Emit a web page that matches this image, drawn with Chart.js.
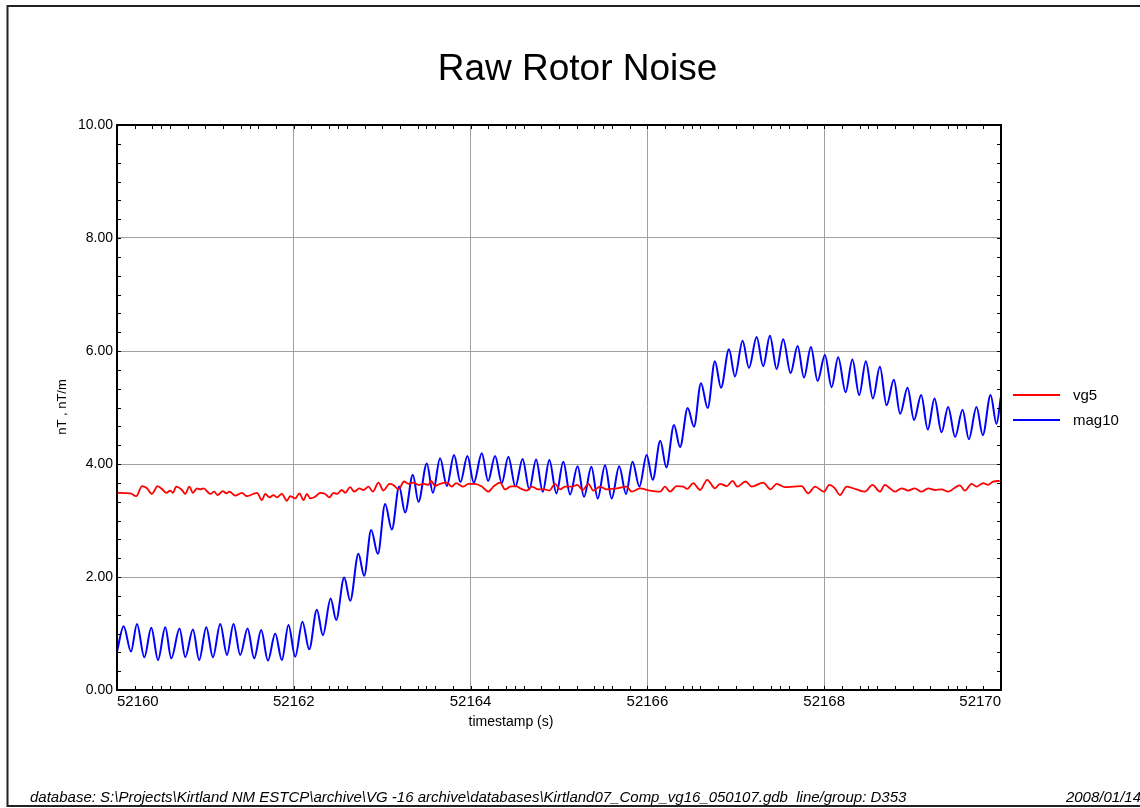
<!DOCTYPE html>
<html><head><meta charset="utf-8">
<script src="https://cdn.jsdelivr.net/npm/chart.js@4"></script>
<style>html,body{margin:0;padding:0;background:#fff;}#wrap{width:1140px;height:808px;position:relative;}</style>
</head><body><div id="wrap"><canvas id="c" width="1140" height="808"></canvas></div>
<script>
const chartTitle = 'Raw Rotor Noise';
const xTitle = 'timestamp (s)';
const yTitle = 'nT , nT/m';
const footerLeft = 'database: S:\\Projects\\Kirtland NM ESTCP\\archive\\VG -16 archive\\databases\\Kirtland07_Comp_vg16_050107.gdb  line/group: D353';
const footerRight = '2008/01/14';
const seriesNames = ['vg5', 'mag10'];
const xTickValues = [52160, 52162, 52164, 52166, 52168, 52170];
const yTickValues = [0, 2, 4, 6, 8, 10];

const magT = [
52160.000,52160.075,52160.158,52160.226,52160.309,52160.388,52160.464,52160.546,52160.614,52160.708,52160.772,52160.859,52160.930,
52161.010,52161.085,52161.168,52161.244,52161.318,52161.394,52161.477,52161.552,52161.631,52161.707,52161.790,52161.865,52161.940,
52162.016,52162.098,52162.174,52162.261,52162.329,52162.417,52162.479,52162.570,52162.638,52162.731,52162.796,52162.875,52162.951,
52163.033,52163.109,52163.192,52163.259,52163.347,52163.410,52163.505,52163.573,52163.655,52163.731,52163.813,52163.885,52163.964,
52164.036,52164.127,52164.198,52164.277,52164.353,52164.427,52164.507,52164.588,52164.664,52164.741,52164.816,52164.891,52164.970,
52165.049,52165.125,52165.210,52165.283,52165.366,52165.438,52165.521,52165.596,52165.681,52165.758,52165.832,52165.909,52165.992,
52166.060,52166.146,52166.214,52166.301,52166.369,52166.456,52166.527,52166.606,52166.682,52166.764,52166.832,52166.923,52166.990,
52167.077,52167.149,52167.236,52167.310,52167.386,52167.462,52167.536,52167.620,52167.699,52167.771,52167.850,52167.925,
52168.008,52168.084,52168.158,52168.242,52168.319,52168.396,52168.471,52168.551,52168.630,52168.706,52168.788,52168.859,52168.943,
52169.016,52169.097,52169.172,52169.248,52169.327,52169.402,52169.481,52169.565,52169.636,52169.723,52169.794,52169.882,52169.949,
52170.000];
const magV = [
0.68,1.13,0.68,1.17,0.58,1.10,0.53,1.11,0.56,1.09,0.58,1.07,0.53,
1.11,0.58,1.17,0.62,1.17,0.62,1.09,0.56,1.06,0.52,1.00,0.53,1.15,
0.59,1.21,0.72,1.42,0.97,1.62,1.24,1.99,1.58,2.41,2.02,2.83,2.41,
3.29,2.84,3.60,3.14,3.81,3.33,4.01,3.49,4.10,3.61,4.16,3.68,4.14,
3.67,4.19,3.70,4.14,3.66,4.13,3.60,4.09,3.55,4.08,3.51,4.07,3.48,
4.04,3.46,3.96,3.42,3.95,3.39,3.98,3.39,3.96,3.47,4.04,3.60,4.16,
3.72,4.41,3.94,4.69,4.30,4.99,4.66,5.43,4.99,5.82,5.35,6.03,5.55,
6.18,5.70,6.25,5.73,6.27,5.68,6.21,5.61,6.09,5.53,6.07,5.47,
5.93,5.36,5.89,5.27,5.85,5.22,5.82,5.16,5.72,5.04,5.49,4.89,5.35,
4.78,5.22,4.61,5.16,4.56,5.01,4.48,4.96,4.44,5.01,4.51,5.22,4.71,
5.20];

const vgT = [
52160.000,52160.150,52160.218,52160.283,52160.339,52160.396,52160.459,52160.520,52160.557,52160.603,
52160.633,52160.670,52160.735,52160.772,52160.817,52160.859,52160.904,52160.942,52160.979,
52161.055,52161.100,52161.137,52161.198,52161.236,52161.273,52161.337,52161.413,52161.470,52161.583,
52161.639,52161.677,52161.725,52161.770,52161.809,52161.865,52161.922,52161.959,
52162.016,52162.064,52162.110,52162.148,52162.185,52162.242,52162.298,52162.355,52162.404,52162.449,
52162.487,52162.544,52162.581,52162.638,52162.683,52162.743,52162.788,52162.845,52162.894,52162.958,
52163.014,52163.082,52163.127,52163.184,52163.248,52163.297,52163.353,52163.410,52163.474,52163.523,
52163.553,52163.599,52163.655,52163.731,52163.787,52163.836,52163.919,52163.975,
52164.051,52164.127,52164.201,52164.258,52164.334,52164.390,52164.447,52164.514,52164.560,52164.635,
52164.692,52164.767,52164.842,52164.891,52164.955,
52165.012,52165.068,52165.144,52165.207,52165.268,52165.332,52165.388,52165.464,52165.540,52165.653,
52165.766,52165.822,52165.916,
52166.029,52166.143,52166.199,52166.256,52166.331,52166.406,52166.451,52166.519,52166.595,52166.677,
52166.764,52166.821,52166.897,52166.964,
52167.016,52167.111,52167.179,52167.310,52167.394,52167.462,52167.556,52167.650,52167.744,52167.819,
52167.895,52167.997,
52168.057,52168.121,52168.178,52168.253,52168.366,52168.460,52168.547,52168.630,52168.686,52168.743,
52168.799,52168.875,52168.950,
52169.025,52169.101,52169.176,52169.252,52169.327,52169.402,52169.497,52169.534,52169.591,52169.667,
52169.723,52169.798,52169.854,52169.911,52169.986];
const vgV = [
3.49,3.48,3.43,3.61,3.57,3.47,3.61,3.54,3.49,3.53,
3.49,3.60,3.54,3.47,3.60,3.49,3.57,3.55,3.57,
3.47,3.51,3.45,3.52,3.48,3.51,3.44,3.49,3.43,3.49,
3.36,3.47,3.41,3.45,3.41,3.47,3.35,3.43,
3.39,3.48,3.36,3.47,3.39,3.42,3.49,3.47,3.41,3.49,
3.47,3.54,3.49,3.59,3.51,3.57,3.54,3.60,3.51,3.67,
3.53,3.65,3.63,3.55,3.69,3.65,3.67,3.63,3.65,3.63,
3.70,3.61,3.65,3.67,3.60,3.66,3.60,3.65,
3.65,3.60,3.51,3.60,3.67,3.55,3.60,3.61,3.57,3.53,
3.60,3.55,3.55,3.53,3.65,
3.55,3.60,3.60,3.63,3.54,3.65,3.53,3.60,3.55,3.57,
3.60,3.51,3.57,
3.53,3.51,3.60,3.51,3.61,3.60,3.56,3.66,3.54,3.72,
3.57,3.65,3.61,3.70,
3.60,3.69,3.60,3.67,3.55,3.65,3.59,3.60,3.61,3.48,
3.60,3.51,
3.63,3.57,3.45,3.60,3.55,3.51,3.63,3.51,3.63,3.57,
3.51,3.57,3.53,
3.57,3.51,3.57,3.54,3.55,3.51,3.60,3.62,3.53,3.65,
3.60,3.66,3.63,3.69,3.70];

const FONT = "'Liberation Sans', Arial, Helvetica, sans-serif";
Chart.defaults.font.family = FONT;
Chart.defaults.color = '#000';

const deco = {
  id: 'deco',
  afterDraw(chart) {
    const ctx = chart.ctx, a = chart.chartArea, xs = chart.scales.x, ys = chart.scales.y;
    ctx.save();
    // minor ticks (inward)
    ctx.strokeStyle = '#000'; ctx.lineWidth = 1;
    ctx.beginPath();
    const xm = [];
    for (let k = 0; k <= 50; k++) xm.push(xs.min + k * 0.2);
    for (let n = 0; n < 10; n++) xm.push(xs.min + n + 0.5);
    xm.forEach(v => {
      const px = Math.round(xs.getPixelForValue(v)) + 0.5;
      ctx.moveTo(px, a.bottom); ctx.lineTo(px, a.bottom - 4);
      ctx.moveTo(px, a.top); ctx.lineTo(px, a.top + 4);
    });
    for (let k = 0; k <= 30; k++) {
      const py = Math.round(ys.getPixelForValue(k / 3)) + 0.5;
      ctx.moveTo(a.left, py); ctx.lineTo(a.left + 4, py);
      ctx.moveTo(a.right, py); ctx.lineTo(a.right - 4, py);
    }
    ctx.stroke();
    // plot frame
    ctx.lineWidth = 2; ctx.strokeStyle = '#000';
    ctx.strokeRect(a.left, a.top, a.right - a.left, a.bottom - a.top);
    // outer border
    ctx.strokeStyle = '#222'; ctx.lineWidth = 2;
    ctx.strokeRect(7.5, 6, 1150, 800);
    // title
    ctx.fillStyle = '#000';
    ctx.textAlign = 'center'; ctx.textBaseline = 'middle';
    ctx.font = '37px ' + FONT;
    ctx.fillText(chartTitle, 577.5, 70);
    // axis titles
    ctx.font = '14px ' + FONT;
    ctx.fillText(xTitle, 511, 722);
    ctx.save();
    ctx.translate(62, 407); ctx.rotate(-Math.PI / 2);
    ctx.font = '13px ' + FONT;
    ctx.fillText(yTitle, 0, 0);
    ctx.restore();
    // legend
    ctx.textAlign = 'left';
    ctx.font = '15px ' + FONT;
    chart.data.datasets.forEach((ds, i) => {
      const ly = 395 + i * 25;
      ctx.strokeStyle = ds.borderColor; ctx.lineWidth = ds.borderWidth;
      ctx.beginPath(); ctx.moveTo(1013, ly); ctx.lineTo(1060, ly); ctx.stroke();
      ctx.fillStyle = '#000';
      ctx.fillText(ds.label, 1073, ly + 1);
    });
    // footer
    ctx.font = 'italic 15px ' + FONT;
    ctx.textBaseline = 'alphabetic';
    ctx.fillText(footerLeft, 30, 802);
    ctx.textAlign = 'right';
    ctx.fillText(footerRight, 1141, 802);
    ctx.restore();
  }
};

new Chart(document.getElementById('c'), {
  type: 'line',
  data: {
    datasets: [
      { label: seriesNames[0], data: vgT.map((t, i) => ({ x: t, y: vgV[i] })), borderColor: '#ff0000', borderWidth: 1.8, pointRadius: 0, tension: 0.4, cubicInterpolationMode: 'monotone' },
      { label: seriesNames[1], data: magT.map((t, i) => ({ x: t, y: magV[i] })), borderColor: '#0000ff', borderWidth: 2, pointRadius: 0, tension: 0.4, cubicInterpolationMode: 'monotone' }
    ]
  },
  options: {
    responsive: false, animation: false, devicePixelRatio: 1,
    layout: { padding: { left: 0, right: 139, top: 125, bottom: 0 } },
    plugins: { legend: { display: false }, title: { display: false }, tooltip: { enabled: false } },
    events: [],
    scales: {
      x: {
        type: 'linear', min: xTickValues[0], max: xTickValues[xTickValues.length - 1],
        afterBuildTicks: s => { s.ticks = xTickValues.map(v => ({ value: v })); },
        afterFit: s => { s.height = 118; },
        ticks: { align: 'inner', autoSkip: false, maxRotation: 0, padding: 3, font: { size: 15 }, color: '#000', callback: v => String(v) },
        grid: { color: '#a0a0a0', lineWidth: 1, drawTicks: false },
        border: { display: false }
      },
      y: {
        type: 'linear', min: yTickValues[0], max: yTickValues[yTickValues.length - 1],
        afterBuildTicks: s => { s.ticks = yTickValues.map(v => ({ value: v })); },
        afterFit: s => { s.width = 117; },
        ticks: { padding: 4, font: { size: 14 }, color: '#000', callback: v => Number(v).toFixed(2) },
        grid: { color: '#a0a0a0', lineWidth: 1, drawTicks: false },
        border: { display: false }
      }
    }
  },
  plugins: [deco]
});
</script>
</body></html>
